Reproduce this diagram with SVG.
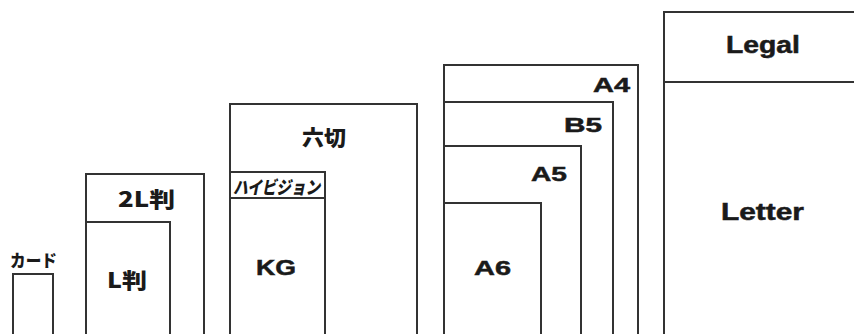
<svg xmlns="http://www.w3.org/2000/svg" width="854" height="334" viewBox="0 0 854 334">
<style>
.box{fill:none;stroke:#333333;stroke-width:2}
.lbl{font-family:"Liberation Sans","Noto Sans CJK JP",sans-serif;font-weight:bold;fill:#1a1a1a;stroke:#1a1a1a;stroke-width:0.5}
.jp{font-family:"Noto Sans CJK JP","Liberation Sans",sans-serif;font-weight:900;fill:#1a1a1a}
</style>
<rect x="0" y="0" width="854" height="334" fill="#ffffff"/>
<g id="card">
<path class="box" d="M13,340 V274 H53 V340"/>
<text class="jp" x="10" y="267" font-size="17" textLength="47" lengthAdjust="spacingAndGlyphs">カード</text>
</g>
<g id="size-2L">
<path class="box" d="M86,340 V174 H204 V340"/>
<text class="jp" x="118" y="207" font-size="21" textLength="57" lengthAdjust="spacingAndGlyphs">2L判</text>
</g>
<g id="size-L">
<path class="box" d="M86,222 H170 V340"/>
<text class="jp" x="107" y="288" font-size="21" textLength="40" lengthAdjust="spacingAndGlyphs">L判</text>
</g>
<g id="rokugiri">
<path class="box" d="M230,340 V104 H417 V340"/>
<text class="jp" x="302" y="145" font-size="21" textLength="44" lengthAdjust="spacingAndGlyphs">六切</text>
</g>
<g id="hivision">
<path class="box" d="M230,172 H325 V340"/>
<text class="jp" x="233" y="194" font-size="18" font-style="italic" font-weight="bold" textLength="87" lengthAdjust="spacingAndGlyphs">ハイビジョン</text>
</g>
<g id="kg">
<path class="box" d="M230,198 H325"/>
<text class="lbl" x="256" y="275" font-size="22" textLength="40" lengthAdjust="spacingAndGlyphs">KG</text>
</g>
<g id="a4">
<path class="box" d="M444,340 V65 H638 V340"/>
<text class="lbl" x="593" y="92" font-size="21" textLength="37" lengthAdjust="spacingAndGlyphs">A4</text>
</g>
<g id="b5">
<path class="box" d="M444,102 H613 V340"/>
<text class="lbl" x="564" y="132" font-size="21" textLength="38" lengthAdjust="spacingAndGlyphs">B5</text>
</g>
<g id="a5">
<path class="box" d="M444,146 H581 V340"/>
<text class="lbl" x="531" y="181" font-size="21" textLength="36" lengthAdjust="spacingAndGlyphs">A5</text>
</g>
<g id="a6">
<path class="box" d="M444,203 H541 V340"/>
<text class="lbl" x="474" y="275" font-size="21" textLength="37" lengthAdjust="spacingAndGlyphs">A6</text>
</g>
<g id="legal">
<path class="box" d="M664,340 V12 H860"/>
<text class="lbl" x="726" y="53" font-size="23" textLength="74" lengthAdjust="spacingAndGlyphs">Legal</text>
</g>
<g id="letter">
<path class="box" d="M664,82 H860"/>
<text class="lbl" x="721" y="220" font-size="23" textLength="83" lengthAdjust="spacingAndGlyphs">Letter</text>
</g>
</svg>
